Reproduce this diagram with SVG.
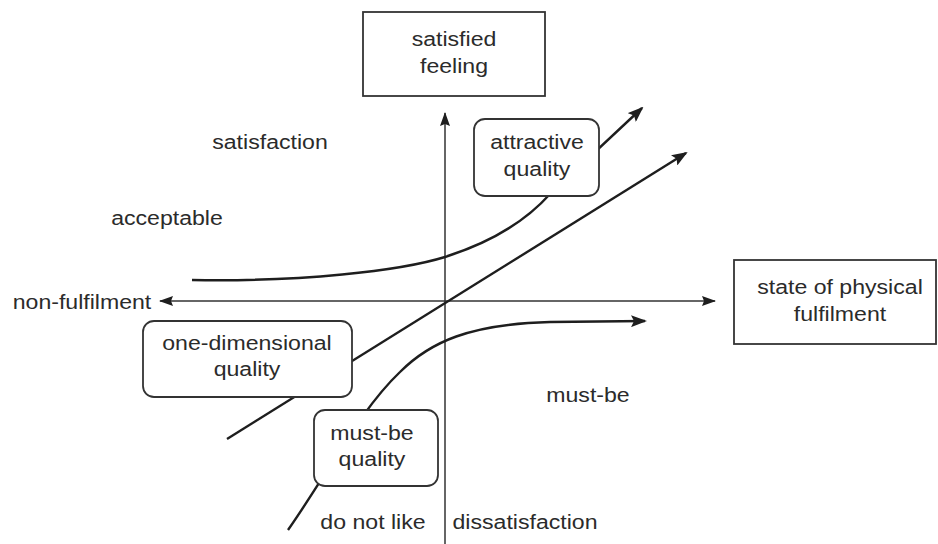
<svg xmlns="http://www.w3.org/2000/svg" width="938" height="544" viewBox="0 0 938 544">
<style>
.t{font-family:"Liberation Sans",Arial,sans-serif;font-size:21px;fill:#2b2b2b;text-anchor:middle;transform-box:fill-box;transform-origin:center;transform:scaleX(1.1)}
.box{fill:#fff;stroke:#333;stroke-width:1.8}
.ax{fill:none;stroke:#333;stroke-width:1.5}
.cv{fill:none;stroke:#1e1e1e;stroke-width:2.4}
</style>
<defs>
<marker id="ah" markerUnits="userSpaceOnUse" markerWidth="16" markerHeight="12" refX="14" refY="6" orient="auto-start-reverse" viewBox="0 0 16 12">
<path d="M0,0 L16,6 L0,12 L3,6 Z" fill="#1e1e1e"/>
</marker>
<marker id="ah2" markerUnits="userSpaceOnUse" markerWidth="14" markerHeight="10" refX="13" refY="5" orient="auto-start-reverse" viewBox="0 0 14 10">
<path d="M0,0 L14,5 L0,10 L2,5 Z" fill="#1e1e1e"/>
</marker>
</defs>
<rect width="938" height="544" fill="#fff"/>
<g id="connectors">
<line class="ax" x1="160" y1="301" x2="715" y2="301" marker-start="url(#ah2)" marker-end="url(#ah2)"/>
<line class="ax" x1="445" y1="544" x2="445" y2="113" marker-end="url(#ah2)"/>
<path class="cv" d="M192,280 C300,282 400,271 445,257 C492,242 525,222 550,194 L642,108" marker-end="url(#ah)"/>
<line class="cv" x1="227" y1="439" x2="686" y2="153" marker-end="url(#ah)"/>
<path class="cv" d="M288,530 C330,470 360,410 400,372 C430,342 470,324 550,322 L645,321" marker-end="url(#ah)"/>
</g>
<g id="satisfied-feeling">
<rect class="box" x="363" y="12" width="182" height="84"/>
<text class="t" x="454" y="46">satisfied</text>
<text class="t" x="454" y="73">feeling</text>
</g>
<g id="physical-fulfilment">
<rect class="box" x="734" y="260" width="202" height="84"/>
<text class="t" x="840" y="294">state of physical</text>
<text class="t" x="840" y="321">fulfilment</text>
</g>
<g id="attractive-quality">
<rect class="box" x="474" y="119" width="125" height="77" rx="11"/>
<text class="t" x="537" y="149">attractive</text>
<text class="t" x="537" y="176">quality</text>
</g>
<g id="one-dimensional-quality">
<rect class="box" x="143" y="321" width="209" height="76" rx="11"/>
<text class="t" x="247" y="350">one-dimensional</text>
<text class="t" x="247" y="376">quality</text>
</g>
<g id="must-be-quality">
<rect class="box" x="314" y="410" width="124" height="76" rx="11"/>
<text class="t" x="372" y="440">must-be</text>
<text class="t" x="372" y="466">quality</text>
</g>
<g id="labels">
<text class="t" x="270" y="149">satisfaction</text>
<text class="t" x="167" y="225">acceptable</text>
<text class="t" x="82" y="309">non-fulfilment</text>
<text class="t" x="588" y="402">must-be</text>
<text class="t" x="373" y="529">do not like</text>
<text class="t" x="525" y="529">dissatisfaction</text>
</g>
</svg>
